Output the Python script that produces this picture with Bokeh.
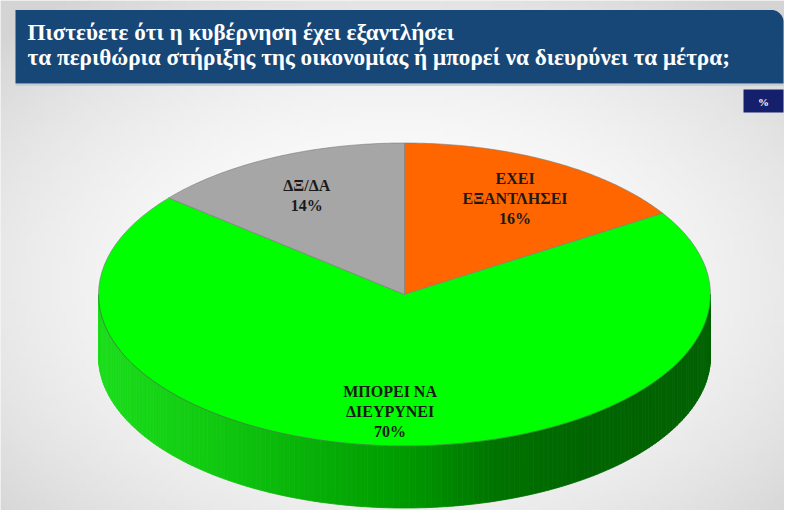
import numpy as np
from bokeh.plotting import figure
from bokeh.models import Range1d
from bokeh.core.properties import value
from bokeh.embed import file_html
from bokeh.resources import INLINE

# ---- data ----
title_lines = ["Πιστεύετε ότι η κυβέρνηση έχει εξαντλήσει",
               "τα περιθώρια στήριξης της οικονομίας ή μπορεί να διευρύνει τα μέτρα;"]
unit_label = "%"
categories = ["ΕΧΕΙ ΕΞΑΝΤΛΗΣΕΙ", "ΜΠΟΡΕΙ ΝΑ ΔΙΕΥΡΥΝΕΙ", "ΔΞ/ΔΑ"]
label_lines = [["ΕΧΕΙ", "ΕΞΑΝΤΛΗΣΕΙ"], ["ΜΠΟΡΕΙ ΝΑ", "ΔΙΕΥΡΥΝΕΙ"], ["ΔΞ/ΔΑ"]]
values = [16, 70, 14]
colors = ["#ff6600", "#00ff00", "#a6a6a6"]

# ---- figure ----
W, H = 784, 510
p = figure(width=W, height=H, x_range=Range1d(0, W), y_range=Range1d(H, 0),
           output_backend="svg", toolbar_location=None, min_border=0,
           x_axis_type=None, y_axis_type=None)
p.grid.visible = False
p.outline_line_color = None
p.background_fill_color = "#f0f0f0"
p.border_fill_color = "#f0f0f0"

# background vignette
ny, nx = 102, 157
yy, xx = np.mgrid[0:ny, 0:nx]
d = ((xx - nx / 2) / (nx / 2)) ** 2 + ((yy - ny * 0.55) / (ny / 2)) ** 2
v = np.clip(255 - 22 * d, 212, 255).astype(np.uint8)
img = np.empty((ny, nx), dtype=np.uint32)
view = img.view(dtype=np.uint8).reshape((ny, nx, 4))
view[:, :, 0] = v
view[:, :, 1] = v
view[:, :, 2] = v
view[:, :, 3] = 255
p.image_rgba(image=[img], x=0, y=0, dw=W, dh=H)

# title banner with rounded top-right corner
x0, x1, y0, y1, r = 15, 783, 9.5, 83, 12
arc = np.linspace(-np.pi / 2, 0, 12)
bx = [x0] + list(x1 - r + r * np.cos(arc)) + [x1, x0]
by = [y0] + list(y0 + r + r * np.sin(arc)) + [y1, y1]
p.line([x0, x1], [y1 + 1.5, y1 + 1.5], line_color="#c8ced6", line_width=2)
p.patch(bx, by, fill_color="#164777", line_color=None)
p.text(x=[27, 27], y=[31, 56], text=title_lines,
       text_font=value("Liberation Serif"), text_font_style="bold",
       text_font_size="23.2px", text_color="white", text_baseline="middle")

# percent box
p.quad(left=[743], right=[783], top=[89], bottom=[112],
       fill_color="#15206c", line_color=None)
p.text(x=[763], y=[101], text=[unit_label], text_font=value("Liberation Serif"),
       text_font_style="bold", text_font_size="11px", text_color="white",
       text_align="center", text_baseline="middle")

# ---- 3D pie ----
cx, cy, rx, ry, depth = 404, 294, 306, 151.5, 62

# side (front half) as shaded strips
n = 180
t = np.linspace(0, np.pi, n + 1)
sx = cx + rx * np.cos(t)
sy = cy + ry * np.sin(t)
stops_u = [0.0, 0.2, 0.35, 0.5, 0.65, 0.8, 1.0]
stops_c = np.array([[28, 222, 28], [16, 200, 16], [8, 176, 8], [0, 155, 0],
                    [0, 115, 0], [0, 101, 0], [0, 98, 0]], dtype=float)
xs_list, ys_list, cols = [], [], []
for i in range(n):
    xs_list.append([sx[i], sx[i + 1], sx[i + 1], sx[i]])
    ys_list.append([sy[i], sy[i + 1], sy[i + 1] + depth, sy[i] + depth])
    u = ((sx[i] + sx[i + 1]) / 2 - (cx - rx)) / (2 * rx)
    c = [int(np.interp(u, stops_u, stops_c[:, k])) for k in range(3)]
    cols.append("#%02x%02x%02x" % tuple(c))
p.patches(xs_list, ys_list, fill_color=cols, line_color=cols, line_width=0.8)

# top face slices (clockwise from 12 o'clock)
total = float(sum(values))
start = 0.0
wx, wy, mids = [], [], []
for val in values:
    a0 = start
    a1 = start + val / total * 2 * np.pi
    aa = np.linspace(a0, a1, 90)
    wx.append([cx] + list(cx + rx * np.sin(aa)))
    wy.append([cy] + list(cy - ry * np.cos(aa)))
    mids.append((a0 + a1) / 2)
    start = a1
p.patches(wx, wy, fill_color=colors, line_color="#7a7a7a", line_width=0.6)

# edge between top face and side
p.line(sx, sy, line_color="#0f950f", line_width=1, line_alpha=0.55)

# labels
f = 0.75
lh = 20
for lines, val, m in zip(label_lines, values, mids):
    all_lines = lines + ["%d%%" % val]
    lx = cx + f * rx * np.sin(m)
    ly = cy - f * ry * np.cos(m) + 4
    k = len(all_lines)
    ys = [ly + (j - (k - 1) / 2) * lh for j in range(k)]
    p.text(x=[lx] * k, y=ys, text=all_lines, text_font=value("Liberation Serif"),
           text_font_style="bold", text_font_size="16px", text_color="#1a1a1a",
           text_align="center", text_baseline="middle")

open("out.html", "w").write(file_html(p, INLINE))
